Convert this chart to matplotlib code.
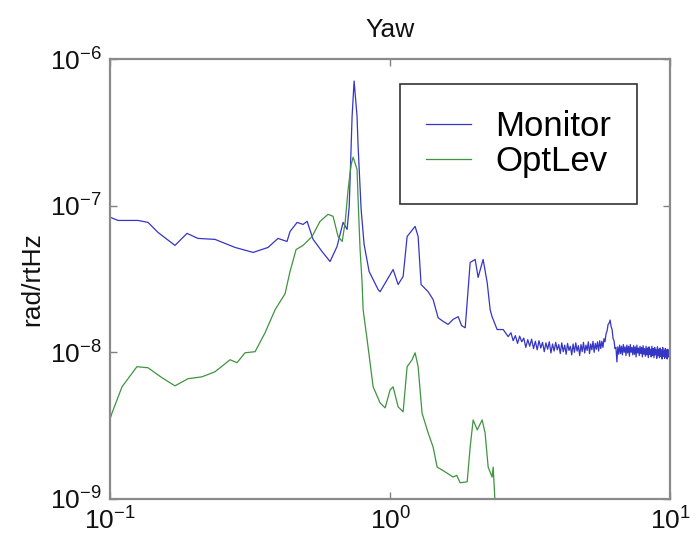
import matplotlib
matplotlib.use("Agg")
import matplotlib.pyplot as plt
from matplotlib.ticker import LogLocator, LogFormatterSciNotation, NullLocator

plt.rcParams["font.family"] = ["Liberation Sans", "DejaVu Sans"]
plt.rcParams["mathtext.fontset"] = "custom"
plt.rcParams["mathtext.rm"] = "Liberation Sans"
plt.rcParams["mathtext.it"] = "Liberation Sans:italic"

# Yaw spectra, rad/rtHz versus frequency in Hz
monitor_freq = [
    0.100, 0.1068, 0.1259, 0.1367, 0.1484, 0.1706, 0.1884, 0.2061, 0.2371,
    0.2795, 0.3243, 0.3666, 0.398, 0.4285, 0.4394, 0.4656, 0.489, 0.5055,
    0.5311, 0.5713, 0.6105, 0.6466, 0.6794, 0.7022, 0.7145, 0.7317, 0.7438,
    0.7620, 0.7687, 0.788, 0.8076, 0.8414, 0.906, 0.921, 0.9756, 1.025,
    1.068, 1.113, 1.150, 1.228, 1.259, 1.290, 1.367, 1.424, 1.484, 1.55,
    1.611, 1.68, 1.750, 1.80, 1.854, 1.931, 2.012, 2.061, 2.148, 2.221,
    2.276, 2.312, 2.41, 2.533, 2.639,
]
monitor_asd = [
    8.35e-8, 7.93e-8, 7.93e-8, 7.69e-8, 6.57e-8, 5.36e-8, 6.47e-8, 5.98e-8, 5.89e-8,
    5.19e-8, 4.80e-8, 5.19e-8, 5.98e-8, 5.70e-8, 6.67e-8, 7.69e-8, 7.45e-8, 7.82e-8,
    5.89e-8, 4.87e-8, 4.16e-8, 5.27e-8, 7.69e-8, 6.89e-8, 9.89e-8, 4.07e-7, 7.08e-7,
    4.07e-7, 2.54e-7, 9.44e-8, 5.44e-8, 3.56e-8, 2.68e-8, 2.59e-8, 3.13e-8, 3.67e-8,
    2.90e-8, 3.29e-8, 6.16e-8, 7.22e-8, 6.16e-8, 2.90e-8, 2.59e-8, 2.29e-8, 1.72e-8, 1.62e-8,
    1.55e-8, 1.68e-8, 1.75e-8, 1.52e-8, 1.47e-8, 4.10e-8, 4.30e-8, 3.24e-8, 4.30e-8, 2.99e-8,
    1.95e-8, 1.75e-8, 1.43e-8, 1.43e-8, 1.28e-8,
]

# Monitor noise floor above 2.7 Hz (amplitude in units of 1e-8 rad/rtHz)
floor_freq = [
    2.70, 2.75, 2.80, 2.85, 2.90, 2.95, 3.00, 3.05, 3.10, 3.15,
    3.20, 3.25, 3.30, 3.35, 3.40, 3.45, 3.50, 3.55, 3.60, 3.65,
    3.70, 3.75, 3.80, 3.85, 3.90, 3.95, 4.00, 4.05, 4.10, 4.15,
    4.20, 4.25, 4.30, 4.35, 4.40, 4.45, 4.50, 4.55, 4.60, 4.65,
    4.70, 4.75, 4.80, 4.85, 4.90, 4.95, 5.00, 5.05, 5.10, 5.15,
    5.20, 5.25, 5.30, 5.35, 5.40, 5.45, 5.50, 5.55, 5.60, 5.65,
    5.70, 5.75, 5.80, 5.85, 5.90, 5.95, 6.00, 6.05, 6.10, 6.15,
    6.20, 6.25, 6.30, 6.35, 6.40, 6.45, 6.50, 6.55, 6.60, 6.65,
    6.70, 6.75, 6.80, 6.85, 6.90, 6.95, 7.00, 7.05, 7.10, 7.15,
    7.20, 7.25, 7.30, 7.35, 7.40, 7.45, 7.50, 7.55, 7.60, 7.65,
    7.70, 7.75, 7.80, 7.85, 7.90, 7.95, 8.00, 8.05, 8.10, 8.15,
    8.20, 8.25, 8.30, 8.35, 8.40, 8.45, 8.50, 8.55, 8.60, 8.65,
    8.70, 8.75, 8.80, 8.85, 8.90, 8.95, 9.00, 9.05, 9.10, 9.15,
    9.20, 9.25, 9.30, 9.35, 9.40, 9.45, 9.50, 9.55, 9.60, 9.65,
    9.70, 9.75, 9.80, 9.85, 9.90, 9.95, 10.00,
]
floor_asd = [
    1.36, 1.20, 1.30, 1.15, 1.29, 1.18, 1.25, 1.08, 1.22, 1.10,
    1.23, 1.06, 1.19, 1.04, 1.20, 1.07, 1.17, 1.01, 1.16, 1.05,
    1.18, 0.99, 1.14, 1.02, 1.17, 1.04, 1.13, 0.98, 1.16, 1.01,
    1.12, 0.97, 1.15, 1.03, 1.10, 0.96, 1.14, 1.00, 1.16, 1.02,
    1.11, 0.95, 1.13, 1.01, 1.17, 0.99, 1.12, 1.03, 1.18, 0.98,
    1.14, 1.04, 1.19, 1.00, 1.15, 1.05, 1.18, 1.02, 1.20, 1.06,
    1.19, 1.08, 1.24, 1.18, 1.34, 1.40, 1.55, 1.58, 1.66, 1.50,
    1.43, 1.24, 1.20, 1.06, 1.08, 0.86, 1.09, 0.97, 1.12, 0.98,
    1.10, 0.96, 1.13, 1.00, 1.09, 0.95, 1.12, 0.99, 1.10, 0.94,
    1.13, 1.00, 1.08, 0.96, 1.11, 0.97, 1.09, 0.93, 1.12, 0.99,
    1.07, 0.95, 1.10, 0.98, 1.08, 0.93, 1.11, 0.97, 1.06, 0.94,
    1.10, 0.96, 1.07, 0.92, 1.09, 0.97, 1.05, 0.93, 1.10, 0.95,
    1.06, 0.92, 1.08, 0.96, 1.04, 0.91, 1.09, 0.95, 1.05, 0.92,
    1.07, 0.94, 1.04, 0.90, 1.08, 0.94, 1.03, 0.91, 1.06, 0.93,
    1.04, 0.90, 1.05, 0.93, 1.02, 0.91, 1.04,
]
FLOOR_UNIT = 1e-8

optlev_freq = [
    0.100, 0.1017, 0.1104, 0.1248, 0.1367, 0.1534, 0.1706, 0.190, 0.2132, 0.2371,
    0.2683, 0.2842, 0.3035, 0.3296, 0.3578, 0.3884, 0.4217, 0.4394, 0.4617,
    0.489, 0.5265, 0.5623, 0.6005, 0.6257, 0.6521, 0.6745, 0.691, 0.708,
    0.7262, 0.738, 0.762, 0.7687, 0.7813, 0.7943, 0.8011, 0.8279, 0.8697,
    0.921, 0.960, 1.0, 1.025, 1.068, 1.113, 1.150, 1.198, 1.228, 1.259,
    1.300, 1.367, 1.424, 1.472, 1.53, 1.598, 1.679, 1.73, 1.778, 1.884,
    1.931, 1.979, 2.047, 2.131, 2.183, 2.239, 2.312, 2.333, 2.40,
]
optlev_asd = [
    3.5e-9, 3.86e-9, 5.82e-9, 7.98e-9, 7.85e-9, 6.71e-9, 5.91e-9, 6.61e-9, 6.81e-9, 7.37e-9,
    8.90e-9, 8.50e-9, 9.93e-9, 1.01e-8, 1.36e-8, 1.95e-8, 2.51e-8, 3.56e-8, 5.02e-8,
    5.36e-8, 6.16e-8, 7.82e-8, 8.73e-8, 8.46e-8, 6.16e-8, 5.70e-8, 7.69e-8, 1.29e-7,
    1.91e-7, 2.14e-7, 1.77e-7, 1.10e-7, 5.02e-8, 2.99e-8, 1.95e-8, 1.22e-8, 5.82e-9,
    4.52e-9, 4.18e-9, 5.55e-9, 5.82e-9, 4.25e-9, 3.93e-9, 7.98e-9, 8.90e-9, 9.93e-9, 7.98e-9,
    3.86e-9, 2.82e-9, 2.26e-9, 1.65e-9, 1.58e-9, 1.50e-9, 1.41e-9, 1.45e-9, 1.29e-9, 1.31e-9,
    2.26e-9, 3.46e-9, 2.96e-9, 3.46e-9, 2.82e-9, 1.65e-9, 1.41e-9, 1.65e-9, 6.0e-10,
]

series_labels = ["Monitor", "OptLev"]
series_colors = ["#3535c6", "#3f943f"]

mon_f = monitor_freq + floor_freq
mon_a = monitor_asd + [v * FLOOR_UNIT for v in floor_asd]

fig = plt.figure(figsize=(6.96, 5.54), dpi=100)
ax = fig.add_axes([0.158, 0.0993, 0.805, 0.7942])

ax.loglog(mon_f, mon_a, color=series_colors[0], lw=0.9, label=series_labels[0])
ax.loglog(optlev_freq, optlev_asd, color=series_colors[1], lw=0.9, label=series_labels[1])

ax.set_xlim(0.1, 10)
ax.set_ylim(1e-9, 1e-6)

for axis in (ax.xaxis, ax.yaxis):
    axis.set_major_locator(LogLocator(base=10, numticks=10))
    axis.set_major_formatter(LogFormatterSciNotation())
    axis.set_minor_locator(NullLocator())

ax.tick_params(which="major", direction="in", length=5, width=1.0, color="#808080",
               top=True, right=True, labelsize=19, labelcolor="#111111")
ax.tick_params(axis="x", pad=6)
ax.tick_params(axis="y", pad=6)

for sp in ax.spines.values():
    sp.set_color("#8a8a8a")
    sp.set_linewidth(1.6)

ax.set_title("Yaw", fontsize=19, pad=16, color="#111111")
ax.set_ylabel("rad/rtHz", fontsize=19, color="#111111", labelpad=4)

leg = ax.legend(loc="upper right", bbox_to_anchor=(0.941, 0.943), borderaxespad=0,
                fontsize=25, handlelength=1.3, handletextpad=0.7, labelspacing=0.05,
                borderpad=0.75, fancybox=False, framealpha=1.0)
leg.get_frame().set_edgecolor("#333333")
leg.get_frame().set_linewidth(1.2)

fig.savefig("out.png", dpi=100)
